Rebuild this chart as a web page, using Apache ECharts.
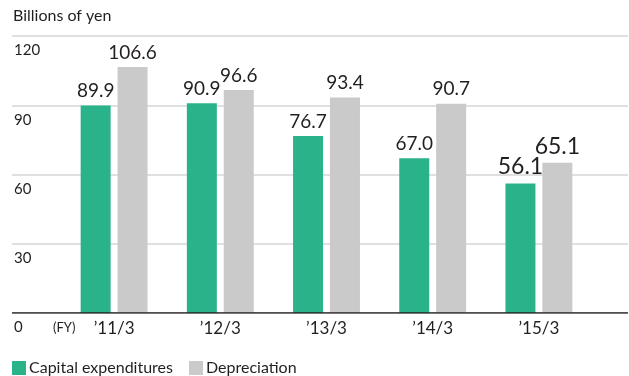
<!DOCTYPE html>
<html><head><meta charset="utf-8">
<script src="https://cdn.jsdelivr.net/npm/echarts@6/dist/echarts.min.js"></script>
<style>html,body{margin:0;padding:0;background:#fff}#c{width:629px;height:376px}</style>
</head><body><div id="c"></div>
<script>
var categories = ["\u201911/3", "\u201912/3", "\u201913/3", "\u201914/3", "\u201915/3"];
var capex = [89.9, 90.9, 76.7, 67.0, 56.1];
var depreciation = [106.6, 96.6, 93.4, 90.7, 65.1];
var yTicks = [0, 30, 60, 90, 120];

var FONT = 'Lato, "Noto Sans", sans-serif';
var GREEN = '#2ab28b', GRAY = '#c9cac9', TXT = '#231f20';

function mk(vals) {
  return vals.map(function (v, i) {
    var d = { value: v };
    if (i === vals.length - 1) d.label = { fontSize: 23 };
    return d;
  });
}

var chart = echarts.init(document.getElementById('c'), null, { renderer: 'canvas' });
chart.setOption({
  animation: false,
  textStyle: { fontFamily: FONT },
  grid: [
    { left: 12, right: 1, top: 36, bottom: 63, containLabel: false },
    { left: 61, width: 531, top: 36, bottom: 63, containLabel: false }
  ],
  legend: {
    left: 12, bottom: 0, padding: 0, itemWidth: 14, itemHeight: 14, itemGap: 16,
    icon: 'rect', textStyle: { fontFamily: FONT, fontSize: 16, color: TXT, padding: [0, 0, 0, -2] },
    data: ['Capital expenditures', 'Depreciation']
  },
  graphic: [
    { type: 'text', left: 13, top: 8, style: { text: 'Billions of yen', font: '16px ' + FONT, fill: TXT } },
    { type: 'text', left: 53, top: 321, style: { text: '(FY)', font: '13px ' + FONT, fill: TXT } }
  ],
  xAxis: [
    { gridIndex: 0, type: 'value', min: 0, max: 1, show: true,
      axisLine: { show: false }, axisTick: { show: false }, axisLabel: { show: false }, splitLine: { show: false } },
    { gridIndex: 1, type: 'category', data: categories,
      axisLine: { show: false }, axisTick: { show: false },
      axisLabel: { fontSize: 17, color: TXT, margin: 7, fontFamily: FONT } }
  ],
  yAxis: [
    { gridIndex: 0, type: 'value', min: 0, max: 120, interval: 30,
      axisLine: { show: false }, axisTick: { show: false },
      splitLine: { lineStyle: { color: '#d6d6d6', width: 1.5 } },
      axisLabel: { inside: true, margin: 2, verticalAlign: 'top', padding: [7, 0, 0, 0],
        fontSize: 15, color: TXT, fontFamily: FONT,
        formatter: function (v) { return yTicks.indexOf(v) >= 0 ? String(v) : ''; } } },
    { gridIndex: 1, type: 'value', min: 0, max: 120, interval: 30, show: false }
  ],
  series: [
    { name: 'Capital expenditures', type: 'bar', xAxisIndex: 1, yAxisIndex: 1,
      data: mk(capex), barWidth: 30, barGap: '23%', itemStyle: { color: GREEN },
      label: { show: true, position: 'top', distance: 5, fontSize: 19, color: TXT, fontFamily: FONT,
        formatter: function (p) { return p.value.toFixed(1); } } },
    { name: 'Depreciation', type: 'bar', xAxisIndex: 1, yAxisIndex: 1,
      data: mk(depreciation), barWidth: 30, barGap: '23%', itemStyle: { color: GRAY },
      label: { show: true, position: 'top', distance: 5, fontSize: 19, color: TXT, fontFamily: FONT,
        formatter: function (p) { return p.value.toFixed(1); } } },
    { type: 'line', xAxisIndex: 0, yAxisIndex: 0, data: [[0, 0], [1, 0]], symbol: 'none',
      lineStyle: { color: '#231f20', width: 1.5 }, silent: true, z: 5 }
  ]
});
</script></body></html>
